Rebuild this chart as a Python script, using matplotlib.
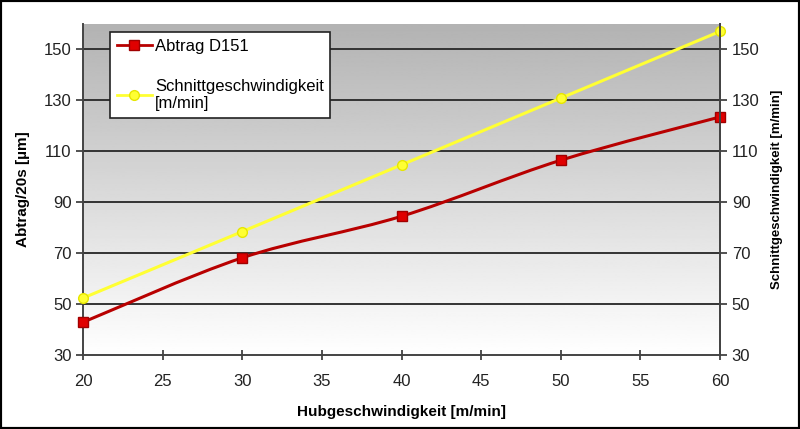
import matplotlib
matplotlib.use("Agg")
import matplotlib.pyplot as plt
import numpy as np
from matplotlib.path import Path
from matplotlib.patches import PathPatch, Rectangle
from matplotlib.lines import Line2D

plt.rcParams['font.family'] = ['Liberation Sans', 'DejaVu Sans']

hub = [20, 30, 40, 50, 60]
abtrag = [42.9, 68.2, 84.5, 106.5, 123.5]
schnitt = [52.4, 78.5, 104.7, 130.9, 157.1]
xticks = [20, 25, 30, 35, 40, 45, 50, 55, 60]
yticks = [30, 50, 70, 90, 110, 130, 150]


def smooth_path(xs, ys):
    pts = np.column_stack([xs, ys]).astype(float)
    n = len(pts)
    verts = [pts[0]]
    codes = [Path.MOVETO]
    for i in range(n - 1):
        p0 = pts[i - 1] if i > 0 else pts[i]
        p1 = pts[i]
        p2 = pts[i + 1]
        p3 = pts[i + 2] if i + 2 < n else pts[i + 1]
        c1 = p1 + (p2 - p0) / 6.0
        c2 = p2 - (p3 - p1) / 6.0
        verts += [c1, c2, p2]
        codes += [Path.CURVE4] * 3
    return Path(verts, codes)


fig = plt.figure(figsize=(8, 4.29), dpi=100)
ax = fig.add_axes([0.104, 0.1725, 0.796, 0.7715])
ax.set_xlim(20, 60)
ax.set_ylim(30, 160)

grad = np.linspace(0.70, 1.0, 256).reshape(-1, 1)
ax.imshow(grad, cmap='gray', vmin=0, vmax=1, aspect='auto',
          extent=[0, 1, 0, 1], transform=ax.transAxes, zorder=0,
          interpolation='bilinear')

for y in yticks[1:]:
    ax.axhline(y, color='#333333', lw=1.4, zorder=1)

red = '#b80000'
yel = '#ffff33'
ax.add_patch(PathPatch(smooth_path(hub, schnitt), fill=False, edgecolor=yel, lw=2.2, zorder=3))
ax.plot(hub, schnitt, ls='none', marker='o', ms=7, mfc=yel, mec='#e6e600', zorder=4, clip_on=False)
ax.add_patch(PathPatch(smooth_path(hub, abtrag), fill=False, edgecolor=red, lw=2.2, zorder=3))
ax.plot(hub, abtrag, ls='none', marker='s', ms=7, mfc='#e00000', mec='#a00000', zorder=4, clip_on=False)

ax.set_xticks(xticks)
ax.set_yticks(yticks)
ax.tick_params(axis='both', labelsize=12, colors='#333333', labelcolor='#222222')
ax.tick_params(axis='y', direction='out', length=5, width=1.2)
ax.tick_params(axis='x', direction='inout', length=7, width=1.2, pad=10)
ax.spines['top'].set_visible(False)
for s in ['left', 'bottom', 'right']:
    ax.spines[s].set_color('#444444')
    ax.spines[s].set_linewidth(1.4)

ax2 = ax.twinx()
ax2.set_ylim(30, 160)
ax2.set_yticks(yticks)
ax2.tick_params(axis='y', labelsize=12, colors='#333333', labelcolor='#222222', length=5, width=1.2)
ax2.spines['top'].set_visible(False)
ax2.spines['right'].set_color('#444444')
ax2.spines['right'].set_linewidth(1.4)
ax2.spines['left'].set_visible(False)
ax2.spines['bottom'].set_visible(False)

ax.set_xlabel('Hubgeschwindigkeit [m/min]', fontsize=11, fontweight='bold', labelpad=12)
ax.set_ylabel('Abtrag/20s [µm]', fontsize=11, fontweight='bold', labelpad=10)
ax2.set_ylabel('Schnittgeschwindigkeit [m/min]', fontsize=9.5, fontweight='bold', labelpad=8)

handles = [Line2D([], [], color=red, lw=2, marker='s', ms=7, mfc='#e00000', mec='#a00000'),
           Line2D([], [], color=yel, lw=2, marker='o', ms=7, mfc=yel, mec='#e6e600')]
leg = ax.legend(handles, ['Abtrag D151', 'Schnittgeschwindigkeit\n[m/min]'],
                loc='upper left', bbox_to_anchor=(0.042, 0.976), fontsize=12,
                frameon=True, fancybox=False, framealpha=1, edgecolor='#222222',
                handlelength=2.1, handletextpad=0.2, labelspacing=1.5,
                borderpad=0.4, borderaxespad=0)
leg.get_frame().set_linewidth(1.2)
leg.set_zorder(10)

fig.patches.append(Rectangle((0, 0), 1, 1, transform=fig.transFigure, fill=False,
                             edgecolor='black', lw=3, zorder=20))

fig.savefig('out.png', dpi=100)
